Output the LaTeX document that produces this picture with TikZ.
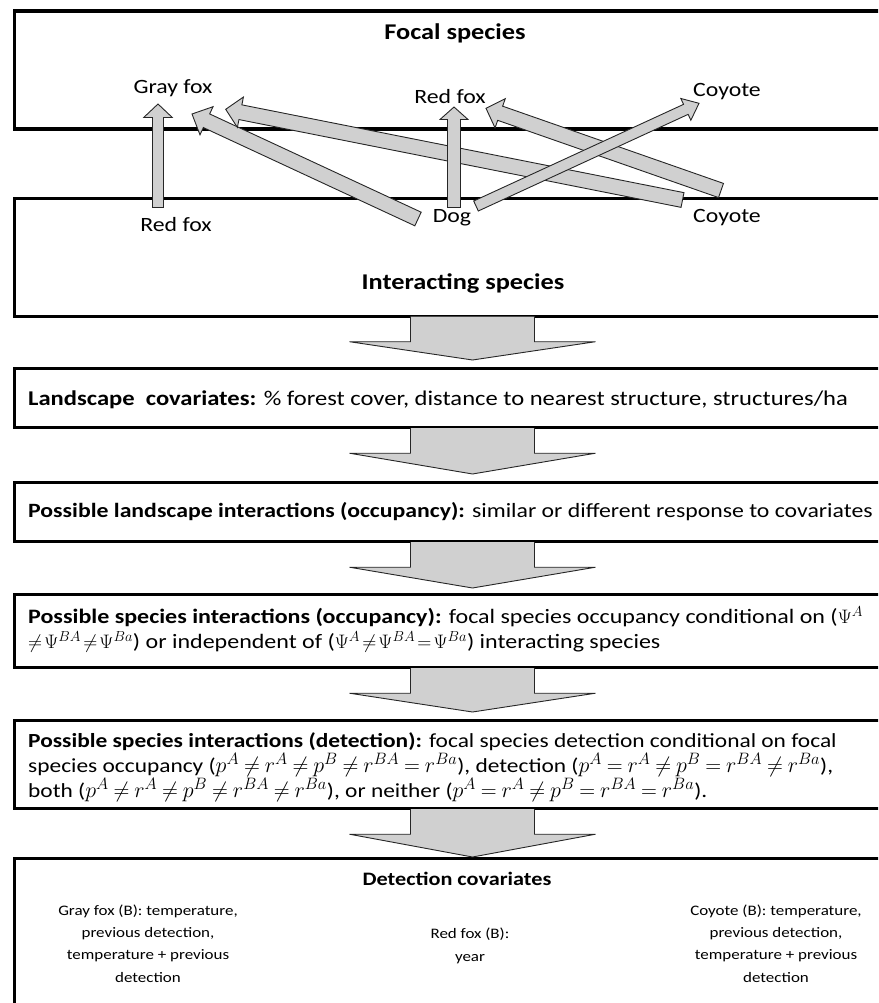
\RequirePackage{fix-cm}
\documentclass[tikz,border=0pt]{standalone}
\usepackage{fontspec}
\setmainfont{Carlito}[FakeStretch=1.17]
\usetikzlibrary{calc}
\DeclareMathSizes{20}{22}{16.5}{12}
\DeclareMathSizes{20.5}{19.5}{14.5}{10.5}
\definecolor{arrowgray}{RGB}{208,208,208}
\tikzset{
  box/.style={draw=black, line width=3.2pt, inner sep=0pt, anchor=north west, minimum width=900pt},
  barrow/.style={fill=arrowgray, draw=black!85, line width=0.9pt, line join=miter},
  lbl/.style={font=\fontsize{20.3}{24}\selectfont, inner sep=0pt},
  ttl/.style={font=\fontsize{22.5}{26}\bfseries\selectfont, inner sep=0pt},
  body/.style={inner sep=0pt, anchor=west, align=left},
  col/.style={font=\fontsize{14.5}{22.3}\selectfont, inner sep=0pt, align=center}
}
\newcommand\flowarrow[3]{%
  \coordinate (ft) at (ax |- #1.south);
  \coordinate (fb) at ($(ax |- #2.north)+(0,-#3)$);
  \filldraw[barrow] ($(ft)+(-62,-1)$) -- ($(ft)+(-62,24)$) -- ($(ft)+(-123,24)$) -- (fb) -- ($(ft)+(123,24)$) -- ($(ft)+(62,24)$) -- ($(ft)+(62,-1)$);
}
\newcommand\sparrow[5]{%
  \coordinate (hb) at ($(#2)!#5pt!(#1)$);
  \filldraw[barrow] ($(#1)!#3pt!90:(#2)$) -- ($(hb)!#3pt!-90:(#1)$) -- ($(hb)!#4pt!-90:(#1)$) -- (#2) -- ($(hb)!#4pt!90:(#1)$) -- ($(hb)!#3pt!90:(#1)$) -- ($(#1)!#3pt!-90:(#2)$) -- cycle;
}
\begin{document}
\begin{tikzpicture}[x=1pt,y=-1pt]
\useasboundingbox (0,0) rectangle (878,1003);
\begin{scope}
\clip (0,0) rectangle (878,1003);
% boxes
\node[box, minimum height=118pt] (focal) at (12.5,9.5) {};
\node[box, minimum height=118pt] (inter) at (12.5,196.5) {};
\node[box, minimum height=59pt] (land) at (12.5,367) {};
\node[box, minimum height=59pt] (landint) at (12.5,481) {};
\node[box, minimum height=73pt] (occ) at (12.5,593) {};
\node[box, minimum height=88pt] (det) at (12.5,719) {};
\node[box, minimum height=170pt] (detcov) at (12.5,857) {};
\coordinate (ax) at (472.5,0);
% titles
\node[ttl] (focalT) at (455,33) {Focal species};
\node[ttl] (interT) at (463,283) {Interacting species};
% species labels
\node[lbl] (gf) at (173,88) {Gray fox};
\node[lbl] (rf) at (450,97) {Red fox};
\node[lbl] (coy) at (727,92) {Coyote};
\node[lbl] (rfb) at (176,225) {Red fox};
\node[lbl] (dog) at (452,218) {Dog};
\node[lbl] (coyb) at (727,218) {Coyote};
% arrow end points
\coordinate (a1s) at (158,207.5); \coordinate (a1e) at (158,104);
\coordinate (a2s) at (418,219);   \coordinate (a2e) at (192,114);
\coordinate (a3s) at (682.5,200); \coordinate (a3e) at (225.7,109.3);
\coordinate (a4s) at (454,207.5); \coordinate (a4e) at (454,107);
\coordinate (a5s) at (476,206);   \coordinate (a5e) at (699,103.3);
\coordinate (a6s) at (721,190.5); \coordinate (a6e) at (486,108.3);
\sparrow{a2s}{a2e}{7.5}{15.5}{16}
\sparrow{a3s}{a3e}{7.5}{15.5}{15}
\sparrow{a6s}{a6e}{7.5}{15.5}{15}
\sparrow{a1s}{a1e}{5.5}{14.3}{13.5}
\sparrow{a4s}{a4e}{6.5}{14}{12.5}
\sparrow{a5s}{a5e}{5.5}{12}{14.5}
% box texts
\node[body, font=\fontsize{21}{25}\selectfont] (landT) at (28,400) {{\bfseries Landscape\ \ covariates:} \% forest cover, distance to nearest structure, structures/ha};
\node[body, font=\fontsize{20.3}{25}\selectfont] (landintT) at (28,512) {{\bfseries Possible landscape interactions (occupancy):} similar or different response to covariates};
\node[body, font=\fontsize{20.5}{25}\selectfont, execute at begin node={\thickmuskip=2mu plus 1mu}] (occT) at (28,629.5) {{\bfseries Possible species interactions (occupancy):} focal species occupancy conditional on ($\Psi^{A}$\\
$\neq\Psi^{BA}\neq\Psi^{Ba}$) or independent of ($\Psi^{A}\neq\Psi^{BA}=\Psi^{Ba}$) interacting species};
\node[body, font=\fontsize{20}{25}\selectfont, execute at begin node={\thickmuskip=4mu plus 1mu}] (detT) at (28,767) {{\bfseries Possible species interactions (detection):} focal species detection conditional on focal\\
species occupancy ($p^{A}\neq r^{A}\neq p^{B}\neq r^{BA}=r^{Ba}$), detection ($p^{A}=r^{A}\neq p^{B}=r^{BA}\neq r^{Ba}$),\\
both ($p^{A}\neq r^{A}\neq p^{B}\neq r^{BA}\neq r^{Ba}$), or neither ($p^{A}=r^{A}\neq p^{B}=r^{BA}=r^{Ba}$).};
\node[font=\fontsize{19}{22}\bfseries\selectfont, inner sep=0pt] (detcovT) at (457,879) {Detection covariates};
\node[col] (gfc) at (148,943.5) {Gray fox (B): temperature,\\ previous detection,\\ temperature + previous\\ detection};
\node[col] (rfc) at (470,946) {Red fox (B):\\ year};
\node[col] (coyc) at (776,943.5) {Coyote (B): temperature,\\ previous detection,\\ temperature + previous\\ detection};
% flow arrows
\flowarrow{inter}{land}{7}
\flowarrow{land}{landint}{7}
\flowarrow{landint}{occ}{5}
\flowarrow{occ}{det}{7}
\flowarrow{det}{detcov}{0}
\end{scope}
\end{tikzpicture}
\end{document}
